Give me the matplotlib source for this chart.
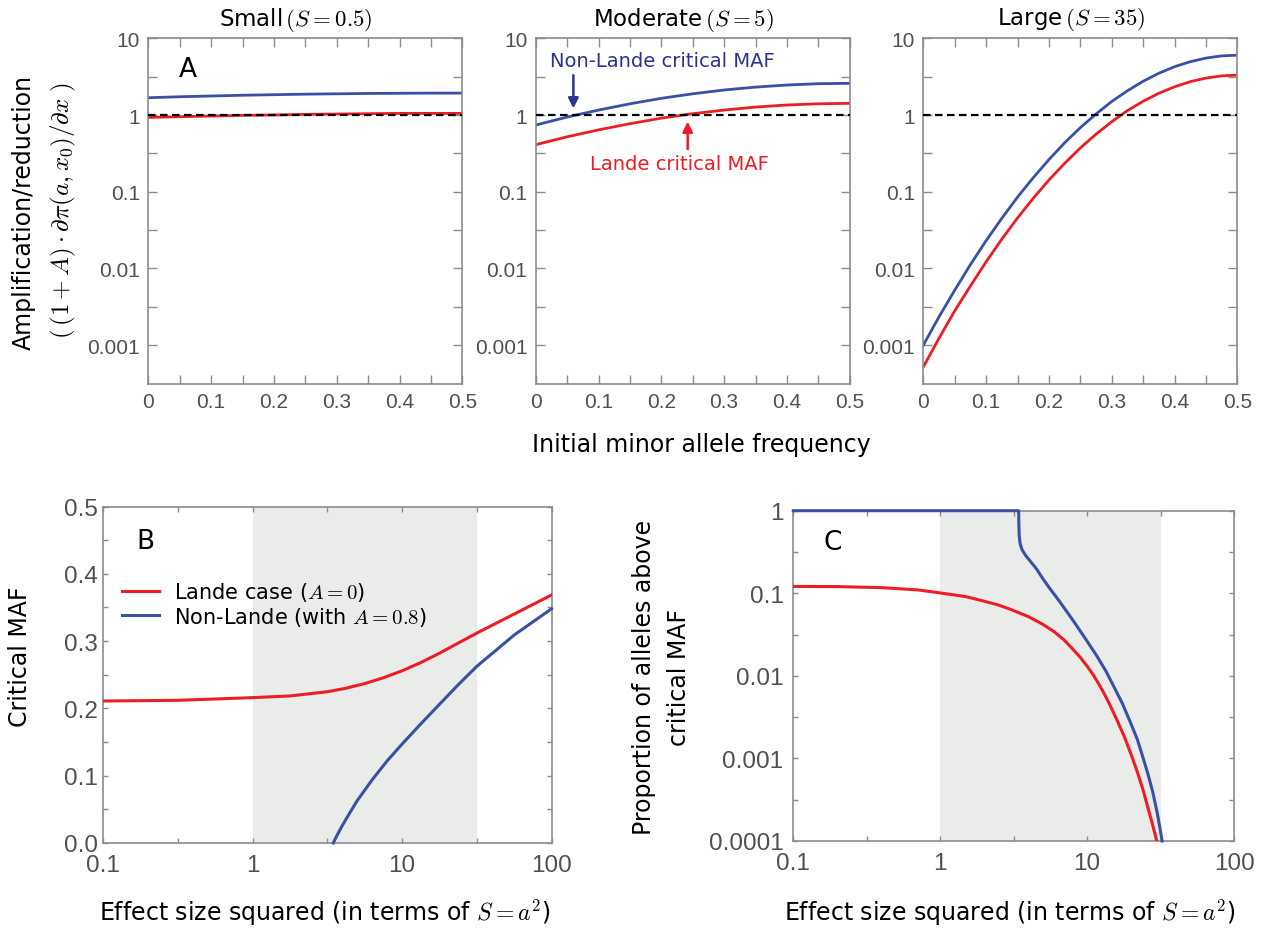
"""
Amplification/reduction of allele effects, critical MAF and proportion of alleles above it
"""

import matplotlib
matplotlib.use('Agg')
import matplotlib.pyplot as plt
import numpy as np
from matplotlib.ticker import FixedLocator, NullFormatter

plt.rcParams['mathtext.fontset'] = 'cm'
plt.rcParams['font.family'] = 'DejaVu Sans'

# ---- data ----
# panel A: initial minor allele frequency
maf = [0, 0.05, 0.1, 0.15, 0.2, 0.25, 0.3, 0.35, 0.4, 0.45, 0.5]
maf_fine = [0, 0.025, 0.05, 0.075, 0.1, 0.125, 0.15, 0.175, 0.2, 0.225, 0.25,
            0.275, 0.3, 0.325, 0.35, 0.375, 0.4, 0.425, 0.45, 0.475, 0.5]

small_lande = [0.93, 0.95, 0.97, 0.99, 1.00, 1.02, 1.03, 1.04, 1.05, 1.05, 1.05]
small_nonlande = [1.68, 1.73, 1.77, 1.81, 1.84, 1.87, 1.89, 1.91, 1.92, 1.93, 1.93]

moderate_lande = [0.41, 0.52, 0.64, 0.77, 0.91, 1.04, 1.16, 1.27, 1.35, 1.40, 1.42]
moderate_nonlande = [0.74, 0.94, 1.16, 1.40, 1.65, 1.89, 2.12, 2.31, 2.46, 2.56, 2.59]

large_lande = [0.00052, 0.00123, 0.0028, 0.0059, 0.0122, 0.0241, 0.0455, 0.082,
               0.142, 0.234, 0.372, 0.562, 0.817, 1.14, 1.51, 1.92, 2.33, 2.72,
               3.03, 3.24, 3.31]
large_nonlande = [0.0010, 0.00234, 0.0052, 0.0112, 0.023, 0.045, 0.085, 0.152,
                  0.262, 0.434, 0.684, 1.03, 1.50, 2.07, 2.75, 3.50, 4.26, 4.95,
                  5.52, 5.90, 6.03]

# panel B: critical MAF vs S
b_s_lande = [0.1, 0.316, 1, 1.778, 3.162, 4.217, 5.623, 7.499, 10, 13.34, 17.78,
             23.71, 31.62, 56.23, 100]
b_lande = [0.211, 0.212, 0.216, 0.2185, 0.2248, 0.230, 0.2369, 0.2455, 0.2559,
           0.2681, 0.282, 0.297, 0.3119, 0.3402, 0.3685]
b_s_nonlande = [3.46, 3.63, 3.98, 4.47, 5.01, 6.31, 7.94, 10, 13.34, 17.78, 23.71,
                31.62, 56.23, 100]
b_nonlande = [0.0, 0.0095, 0.026, 0.045, 0.063, 0.094, 0.122, 0.147, 0.177, 0.206,
              0.235, 0.2625, 0.309, 0.348]

# panel C: proportion of alleles above critical MAF
c_s_lande = [0.1, 0.2, 0.4, 0.7, 1, 1.5, 2, 2.5, 3, 4, 5, 6, 7, 8, 9, 10, 11, 12,
             13, 14, 16, 18, 20, 22, 24, 26, 28, 29.8]
c_lande = [0.121, 0.1205, 0.117, 0.110, 0.101, 0.091, 0.080, 0.072, 0.064, 0.052,
           0.042, 0.034, 0.027, 0.021, 0.0167, 0.0131, 0.0103, 0.0080, 0.0062,
           0.0048, 0.0029, 0.0018, 0.0011, 0.00068, 0.00042, 0.00025, 0.000154,
           0.0001]
c_s_nonlande = [0.1, 1, 3.42, 3.43, 3.45, 3.5, 3.6, 3.8, 4.1, 4.5, 5.0, 5.6, 6.5,
                8.07, 10, 11.7, 13.4, 15.1, 17.4, 19.7, 22, 24.2, 26, 28, 30, 31.3,
                32.4]
c_nonlande = [1.0, 1.0, 1.0, 0.7, 0.5, 0.4, 0.34, 0.29, 0.245, 0.2, 0.15, 0.113,
              0.0795, 0.0462, 0.0263, 0.0172, 0.0115, 0.0076, 0.00461, 0.00274,
              0.00169, 0.00098, 0.00064, 0.00039, 0.00022, 0.000145, 0.0001]

shade_range = [1, 31.6]

titles = ['Small', 'Moderate', 'Large']
s_labels = [r'$(S=0.5)$', r'$(S=5)$', r'$(S=35)$']

RED = '#ee1d23'
BLUE = '#3a50a5'
NAVY = '#2e3192'
SPINE = '#8c8c8c'
TICKLBL = '#505050'
SHADE = '#e9ece9'

W, H = 1268, 929


def box(l, t, r, b):
    return [l / W, 1 - b / H, (r - l) / W, (b - t) / H]


def style(ax, length, size, pad):
    for sp in ax.spines.values():
        sp.set_color(SPINE)
        sp.set_linewidth(1.2)
    ax.tick_params(which='both', direction='in', length=length, width=1, color=SPINE,
                   top=True, right=True, labelsize=size, labelcolor=TICKLBL, pad=pad)
    for lbl in ax.get_xticklabels() + ax.get_yticklabels():
        lbl.set_fontfamily('Liberation Sans')


fig = plt.figure(figsize=(12.68, 9.29), dpi=100)

# ---- top row ----
lefts = [148.3, 535.7, 923.3]
top_series = [(small_lande, small_nonlande, maf),
              (moderate_lande, moderate_nonlande, maf),
              (large_lande, large_nonlande, maf_fine)]
axes_top = []
for i, left in enumerate(lefts):
    ax = fig.add_axes(box(left, 39.3, left + 314, 384.5))
    lande, nonlande, xs = top_series[i]
    ax.axhline(1, color='black', lw=1.6, ls=(0, (3.4, 2.0)), zorder=3)
    ax.plot(xs, nonlande, color=BLUE, lw=2, zorder=2)
    ax.plot(xs, lande, color=RED, lw=2, zorder=2)
    ax.set_yscale('log')
    ax.set_ylim(10 ** -3.5, 10)
    ax.set_xlim(0, 0.5)
    ax.set_yticks([1e-3, 1e-2, 1e-1, 1, 10])
    ax.set_yticklabels(['0.001', '0.01', '0.1', '1', '10'])
    ax.yaxis.set_minor_locator(FixedLocator([10 ** -2.5, 10 ** -1.5, 10 ** -0.5, 10 ** 0.5]))
    ax.yaxis.set_minor_formatter(NullFormatter())
    ax.set_xticks([0, 0.1, 0.2, 0.3, 0.4, 0.5])
    ax.set_xticklabels(['0', '0.1', '0.2', '0.3', '0.4', '0.5'])
    ax.xaxis.set_minor_locator(FixedLocator([0.05, 0.15, 0.25, 0.35, 0.45]))
    style(ax, 6.5, 15, 6)
    ax.text(0.47, 1.056, titles[i] + r'$\,$' + s_labels[i], transform=ax.transAxes,
            ha='center', va='center', fontsize=16.5)
    axes_top.append(ax)

axes_top[0].text(0.127, 0.91, 'A', transform=axes_top[0].transAxes,
                 ha='center', va='center', fontsize=19)

# annotations in the moderate panel
axm = axes_top[1]
axm.text(0.022, 5.1, 'Non-Lande critical MAF', color=NAVY, fontsize=14,
         ha='left', va='center')
axm.annotate('', xy=(0.06, 1.22), xytext=(0.06, 3.3),
             arrowprops=dict(arrowstyle='-|>,head_length=0.6,head_width=0.3',
                             color=NAVY, lw=1.8, shrinkA=0, shrinkB=0))
axm.text(0.087, 0.23, 'Lande critical MAF', color=RED, fontsize=14,
         ha='left', va='center')
axm.annotate('', xy=(0.242, 0.82), xytext=(0.242, 0.36),
             arrowprops=dict(arrowstyle='-|>,head_length=0.6,head_width=0.3',
                             color=RED, lw=1.8, shrinkA=0, shrinkB=0))

fig.text(24 / W, 1 - 212 / H, 'Amplification/reduction', rotation=90,
         ha='center', va='center', fontsize=17)
fig.text(63 / W, 1 - 211 / H,
         r'$(\,(1+A)\cdot\partial\pi(a,x_0)/\partial x\;)$', rotation=90,
         ha='center', va='center', fontsize=18)
fig.text(701.7 / W, 1 - 445 / H, 'Initial minor allele frequency',
         ha='center', va='center', fontsize=17)

# ---- panel B ----
axb = fig.add_axes(box(103.3, 507.5, 551.5, 844))
axb.axvspan(shade_range[0], shade_range[1], color=SHADE, lw=0, zorder=0)
axb.plot(b_s_lande, b_lande, color=RED, lw=2.2, label=r'Lande case ($A=0$)', zorder=3)
axb.plot(b_s_nonlande, b_nonlande, color=BLUE, lw=2.2,
         label=r'Non-Lande (with $A=0.8$)', zorder=3, clip_on=False)
axb.set_xscale('log')
axb.set_xlim(0.1, 100)
axb.set_ylim(0, 0.5)
axb.set_xticks([0.1, 1, 10, 100])
axb.set_xticklabels(['0.1', '1', '10', '100'])
axb.xaxis.set_minor_locator(FixedLocator([10 ** -0.5, 10 ** 0.5, 10 ** 1.5]))
axb.xaxis.set_minor_formatter(NullFormatter())
axb.set_yticks([0, 0.1, 0.2, 0.3, 0.4, 0.5])
axb.set_yticklabels(['0.0', '0.1', '0.2', '0.3', '0.4', '0.5'])
axb.yaxis.set_minor_locator(FixedLocator([0.05, 0.15, 0.25, 0.35, 0.45]))
style(axb, 3.5, 17.5, 4)
axb.tick_params(axis='x', pad=8)
axb.text(0.094, 0.898, 'B', transform=axb.transAxes, ha='center', va='center', fontsize=19)
axb.legend(loc='upper left', bbox_to_anchor=(0.041, 0.782), frameon=False, fontsize=15,
           handlelength=1.8, handletextpad=0.7, labelspacing=0.08,
           borderpad=0, borderaxespad=0)
fig.text(20 / W, 1 - 657 / H, 'Critical MAF', rotation=90, ha='center', va='center',
         fontsize=17)
fig.text(324.5 / W, 1 - 913 / H, r'Effect size squared (in terms of $S=a^2$)',
         ha='center', va='center', fontsize=17)

# ---- panel C ----
axc = fig.add_axes(box(793.3, 511.7, 1234, 842))
axc.axvspan(shade_range[0], shade_range[1], color=SHADE, lw=0, zorder=0)
axc.plot(c_s_lande, c_lande, color=RED, lw=2.2, zorder=3)
axc.plot(c_s_nonlande, c_nonlande, color=BLUE, lw=2.2, zorder=3, clip_on=False)
axc.set_xscale('log')
axc.set_yscale('log')
axc.set_xlim(0.1, 100)
axc.set_ylim(1e-4, 1)
axc.set_xticks([0.1, 1, 10, 100])
axc.set_xticklabels(['0.1', '1', '10', '100'])
axc.xaxis.set_minor_locator(FixedLocator([10 ** -0.5, 10 ** 0.5, 10 ** 1.5]))
axc.xaxis.set_minor_formatter(NullFormatter())
axc.set_yticks([1e-4, 1e-3, 1e-2, 1e-1, 1])
axc.set_yticklabels(['0.0001', '0.001', '0.01', '0.1', '1'])
axc.yaxis.set_minor_locator(FixedLocator([10 ** -3.5, 10 ** -2.5, 10 ** -1.5, 10 ** -0.5]))
axc.yaxis.set_minor_formatter(NullFormatter())
style(axc, 3.5, 17.5, 7)
axc.tick_params(axis='x', pad=8)
axc.text(0.089, 0.905, 'C', transform=axc.transAxes, ha='center', va='center', fontsize=19)
fig.text(644 / W, 1 - 677 / H, 'Proportion of alleles above', rotation=90,
         ha='center', va='center', fontsize=17)
fig.text(679 / W, 1 - 677 / H, 'critical MAF', rotation=90,
         ha='center', va='center', fontsize=17)
fig.text(1010 / W, 1 - 913 / H, r'Effect size squared (in terms of $S=a^2$)',
         ha='center', va='center', fontsize=17)

plt.savefig('out.png', dpi=100)
